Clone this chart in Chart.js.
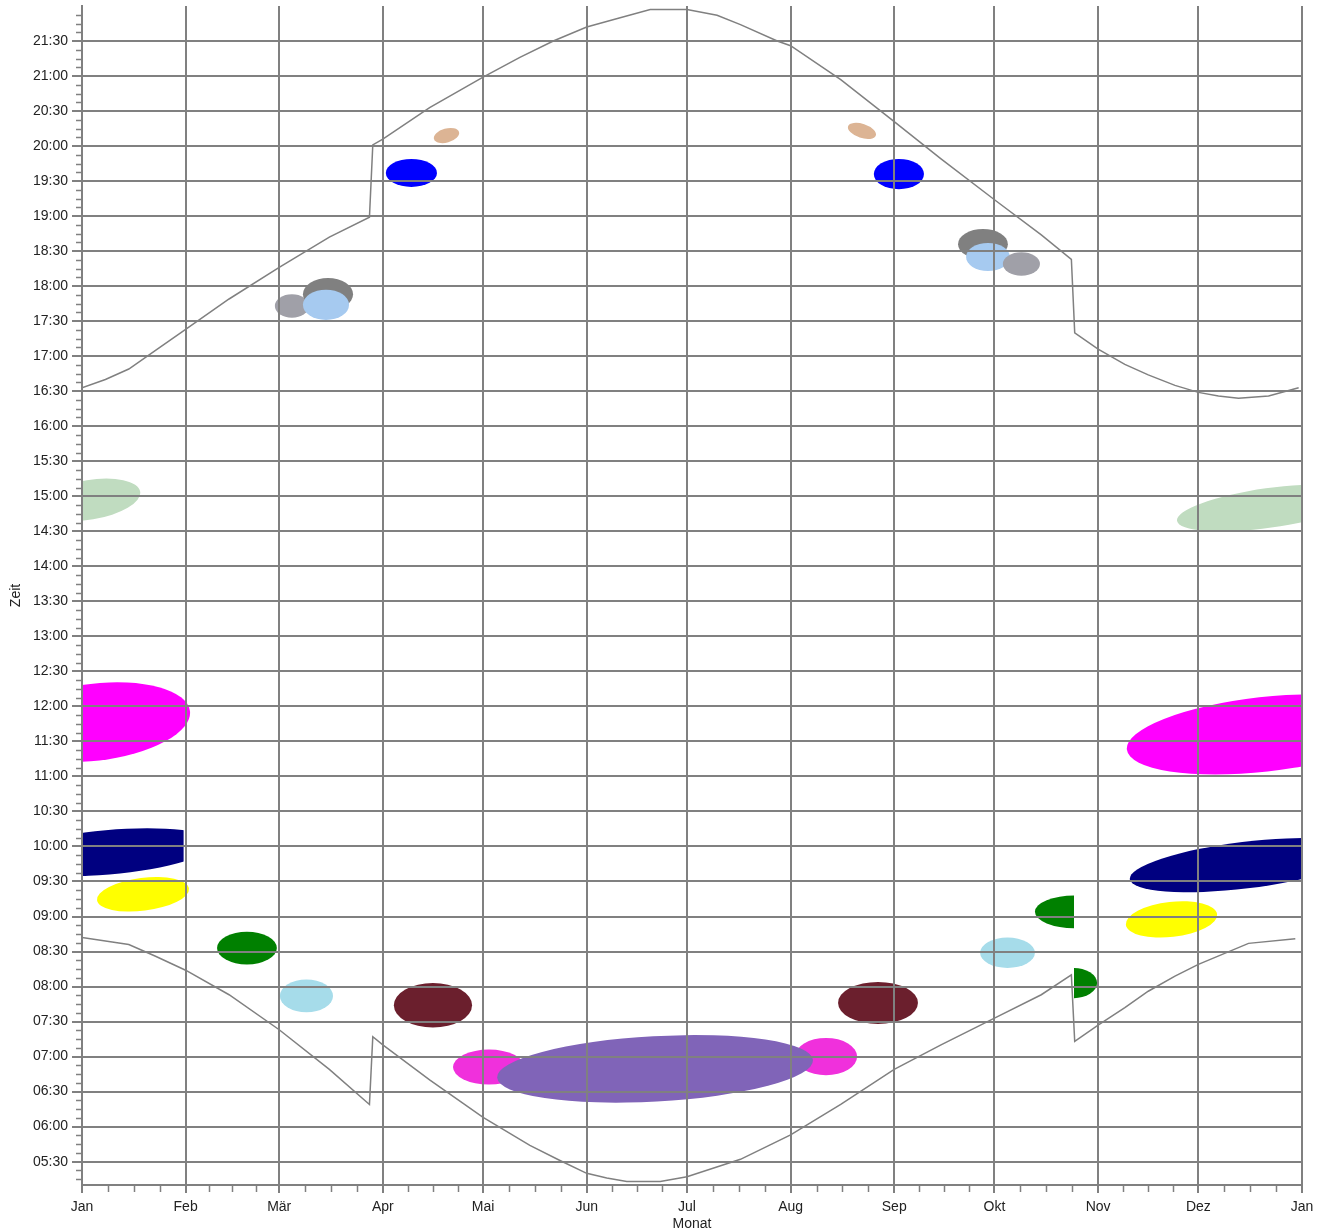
<!DOCTYPE html>
<html>
<head>
<meta charset="utf-8">
<script src="https://cdn.jsdelivr.net/npm/chart.js@4.4.1/dist/chart.umd.min.js"></script>
<style>
  html, body { margin: 0; padding: 0; background: #fff; }
  #wrap { width: 1326px; height: 1231px; position: relative; }
</style>
</head>
<body>
<div id="wrap"><canvas id="sunChart"></canvas></div>
<script>
Chart.defaults.font.family = '"Liberation Sans", Arial, sans-serif';
Chart.defaults.font.size = 14;
Chart.defaults.color = '#222';

// x axis: day of year where each month starts (last one = next Jan)
var monthDays = [0, 31, 59, 90, 120, 151, 181, 212, 243, 273, 304, 334, 365];
var monthLabels = ['Jan', 'Feb', 'Mär', 'Apr', 'Mai', 'Jun', 'Jul', 'Aug', 'Sep', 'Okt', 'Nov', 'Dez', 'Jan'];

// y axis: minutes after midnight, labelled every half hour
var timeTicks = [330, 360, 390, 420, 450, 480, 510, 540, 570, 600, 630, 660, 690, 720, 750, 780,
                 810, 840, 870, 900, 930, 960, 990, 1020, 1050, 1080, 1110, 1140, 1170, 1200, 1230, 1260, 1290];

// sunset (upper line)
var sunsetDays  = [0, 7, 14, 22, 31, 44, 59, 74, 86, 87, 90, 104, 120, 131, 141, 151, 161, 170, 181, 190, 197, 208, 212,
                   227, 243, 257, 273, 287, 296, 297, 304, 312, 319, 327, 334, 340, 346, 355, 364];
var sunsetTimes = [993, 1000, 1009, 1025, 1043, 1069, 1096, 1122, 1139, 1201, 1206, 1233, 1259, 1276, 1290, 1302, 1310, 1317, 1317, 1312, 1304, 1290, 1286,
                   1257, 1221, 1189, 1154, 1124, 1103, 1040, 1026, 1013, 1004, 995, 989, 986, 984, 986, 993];

// sunrise (lower line)
var sunriseDays  = [0, 14, 22, 31, 44, 59, 74, 86, 87, 90, 104, 120, 134, 143, 151, 157, 163, 173, 181, 197, 212,
                    227, 243, 257, 273, 287, 296, 297, 304, 312, 319, 327, 334, 349, 363];
var sunriseTimes = [522, 516, 506, 494, 473, 443, 409, 379, 437, 430, 400, 368, 344, 331, 320, 316, 313, 313, 317, 332, 353,
                    379, 409, 430, 453, 473, 490, 433, 447, 462, 476, 489, 499, 517, 521];

// blobs: start / end (day, minutes) and half spread in minutes
var blobStartDay  = [-12.6, 327.6, -24.5, 312.6, -24.5, 313.5, 4.5, 312.3, 40.4, 59.2, 268.7, 93.3, 226.2,
                     111.0, 213.3, 124.2, 285.1, 289.3, 90.9, 236.9, 105.3, 229.2, 57.7, 66.1, 66.1, 262.1, 264.5, 275.5];
var blobStartTime = [890, 879, 697, 683, 587, 572, 554, 533, 513, 472, 509, 464, 466,
                     411, 420, 402, 544, 483, 1177, 1176, 1206, 1217, 1063, 1073, 1064, 1116, 1105, 1099];
var blobEndDay    = [17.4, 382.4, 32.3, 394.3, 39.8, 382.4, 32.0, 339.6, 58.3, 75.1, 285.1, 116.7, 250.1,
                     132.5, 231.9, 218.7, 309.1, 303.7, 106.2, 251.9, 112.8, 237.5, 67.9, 81.1, 79.9, 277.0, 277.6, 286.6];
var blobEndTime   = [904, 901, 716, 709, 603, 596, 564, 542, 513, 472, 509, 464, 466,
                     411, 420, 417, 544, 483, 1177, 1176, 1212, 1209, 1063, 1073, 1064, 1116, 1105, 1099];
var blobSpread    = [17, 17, 33, 32, 19, 20, 14, 15, 14, 14, 13, 19, 18,
                     15, 16, 28, 14, 13, 12, 13, 6, 6, 10, 14, 13, 13, 12, 10];
// optional day window a blob is cut to (null = none)
var blobKeepFrom  = [null, null, null, null, null, null, null, null, null, null, null, null, null,
                     null, null, null, null, 296.8, null, null, null, null, null, null, null, null, null, null];
var blobKeepTo    = [null, null, null, null, 30.4, null, null, null, null, null, null, null, null,
                     null, null, null, 296.8, null, null, null, null, null, null, null, null, null, null, null];
var blobColors = ['#c0dcc0', '#c0dcc0', '#ff00ff', '#ff00ff', '#000080', '#000080', '#ffff00', '#ffff00',
                  '#008000', '#a6dcea', '#a6dcea', '#6b1f2d', '#6b1f2d', '#f030dc', '#f030dc', '#8064b8',
                  '#008000', '#008000', '#0000ff', '#0000ff', '#dcb494', '#dcb494',
                  '#a0a0a8', '#808080', '#a6caf0', '#808080', '#a6caf0', '#a0a0a8'];

function toPoints(days, times) {
  return days.map(function (d, i) { return { x: d, y: times[i] }; });
}

function hhmm(v) {
  var h = Math.floor(v / 60), m = v % 60;
  return (h < 10 ? '0' : '') + h + ':' + (m < 10 ? '0' : '') + m;
}

// filled ellipses, painted under the grid
var blobPlugin = {
  id: 'blobs',
  beforeDraw: function (chart) {
    var xs = chart.scales.x, ys = chart.scales.y, area = chart.chartArea, ctx = chart.ctx;
    for (var i = 0; i < blobColors.length; i++) {
      var x0 = xs.getPixelForValue(blobStartDay[i]), y0 = ys.getPixelForValue(blobStartTime[i]);
      var x1 = xs.getPixelForValue(blobEndDay[i]), y1 = ys.getPixelForValue(blobEndTime[i]);
      var ry = Math.abs(ys.getPixelForValue(blobStartTime[i] + blobSpread[i]) - y0);
      var rx = Math.hypot(x1 - x0, y1 - y0) / 2;
      var left = area.left, right = area.right;
      if (blobKeepFrom[i] !== null) left = xs.getPixelForValue(blobKeepFrom[i]);
      if (blobKeepTo[i] !== null) right = xs.getPixelForValue(blobKeepTo[i]);
      ctx.save();
      ctx.beginPath();
      ctx.rect(left, area.top, right - left, area.bottom - area.top);
      ctx.clip();
      ctx.beginPath();
      ctx.ellipse((x0 + x1) / 2, (y0 + y1) / 2, rx, ry, Math.atan2(y1 - y0, x1 - x0), 0, Math.PI * 2);
      ctx.fillStyle = blobColors[i];
      ctx.fill();
      ctx.restore();
    }
  }
};

// short ticks between the labelled ones
var minorTickPlugin = {
  id: 'minorTicks',
  afterDraw: function (chart) {
    var xs = chart.scales.x, ys = chart.scales.y, ctx = chart.ctx;
    ctx.save();
    ctx.strokeStyle = '#808080';
    ctx.lineWidth = 1.5;
    ctx.beginPath();
    for (var i = 0; i < monthDays.length - 1; i++) {
      var len = monthDays[i + 1] - monthDays[i];
      for (var q = 1; q < 4; q++) {
        var px = Math.round(xs.getPixelForValue(monthDays[i] + len * q / 4)) + 0.5;
        ctx.moveTo(px, xs.top + 1);
        ctx.lineTo(px, xs.top + 7);
      }
    }
    for (var t = Math.ceil(ys.min / 7.5) * 7.5; t < ys.max; t += 7.5) {
      if (t % 30 === 0) continue;
      var py = Math.round(ys.getPixelForValue(t)) + 0.5;
      ctx.moveTo(ys.right - 6, py);
      ctx.lineTo(ys.right, py);
    }
    ctx.stroke();
    ctx.restore();
  }
};

var ctx = document.getElementById('sunChart');
new Chart(ctx, {
  type: 'scatter',
  data: {
    datasets: [{
      label: 'Sonnenuntergang',
      data: toPoints(sunsetDays, sunsetTimes),
      showLine: true,
      borderColor: '#808080',
      borderWidth: 1.5,
      pointRadius: 0
    }, {
      label: 'Sonnenaufgang',
      data: toPoints(sunriseDays, sunriseTimes),
      showLine: true,
      borderColor: '#808080',
      borderWidth: 1.5,
      pointRadius: 0
    }]
  },
  options: {
    responsive: true,
    maintainAspectRatio: false,
    animation: false,
    layout: { padding: { top: 6, right: 24, left: 0, bottom: 0 } },
    scales: {
      x: {
        type: 'linear',
        min: 0,
        max: 365,
        afterBuildTicks: function (s) { s.ticks = monthDays.map(function (d) { return { value: d }; }); },
        afterFit: function (s) { s.height = 46; s.paddingLeft = 0; s.paddingRight = 0; },
        ticks: {
          autoSkip: false,
          maxRotation: 0,
          padding: 6,
          callback: function (v, i) { return monthLabels[i]; }
        },
        grid: { color: '#808080', lineWidth: 2, tickLength: 8, tickColor: '#808080' },
        border: { display: true, color: '#808080', width: 2 },
        title: { display: true, text: 'Monat', padding: { top: 0, bottom: -2 } }
      },
      y: {
        type: 'linear',
        min: 310,
        max: 1320,
        afterBuildTicks: function (s) { s.ticks = timeTicks.map(function (t) { return { value: t }; }); },
        afterFit: function (s) { s.width = 82; s.paddingTop = 0; s.paddingBottom = 0; },
        ticks: {
          padding: 4,
          callback: function (v) { return hhmm(v); }
        },
        grid: { color: '#808080', lineWidth: 2, tickLength: 10, tickColor: '#808080' },
        border: { display: true, color: '#808080', width: 2 },
        title: { display: true, text: 'Zeit', padding: { top: 8, bottom: 0 } }
      }
    },
    plugins: {
      legend: { display: false },
      tooltip: { enabled: false }
    }
  },
  plugins: [blobPlugin, minorTickPlugin]
});
</script>
</body>
</html>
